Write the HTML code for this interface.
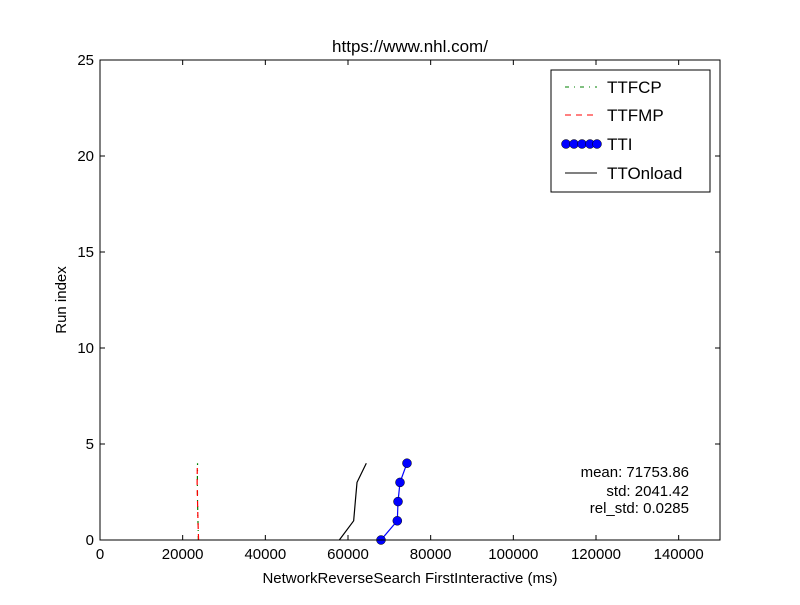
<!DOCTYPE html>
<html><head><meta charset="utf-8"><style>
body{margin:0;background:#fff;}
svg{font-family:"Liberation Sans",sans-serif;}
</style></head><body>
<svg id="chart" width="800" height="600" xmlns="http://www.w3.org/2000/svg">
<rect width="800" height="600" fill="#fff"/>
<text x="410" y="52" font-size="17" text-anchor="middle">https://www.nhl.com/</text>
<g id="plot"></g>
<text x="410" y="583" font-size="15" text-anchor="middle">NetworkReverseSearch FirstInteractive (ms)</text>
<text transform="translate(66,300) rotate(-90)" font-size="15" text-anchor="middle">Run index</text>
<g font-size="15" text-anchor="end">
<text x="689" y="477">mean: 71753.86</text>
<text x="689" y="496">std: 2041.42</text>
<text x="689" y="513">rel_std: 0.0285</text>
</g>
<g>
<rect x="551" y="70" width="159" height="122" fill="#fff" stroke="#000"/>
<line x1="565" y1="87" x2="597" y2="87" stroke="green" stroke-dasharray="4,5,1,5"/>
<text x="607" y="93" font-size="17">TTFCP</text>
<line x1="565" y1="115" x2="597" y2="115" stroke="red" stroke-dasharray="6,5"/>
<text x="607" y="121" font-size="17">TTFMP</text>
<g fill="blue" stroke="#000" stroke-width="0.5">
<circle cx="566" cy="144" r="4.5"/><circle cx="574" cy="144" r="4.5"/><circle cx="582" cy="144" r="4.5"/><circle cx="590" cy="144" r="4.5"/><circle cx="597" cy="144" r="4.5"/></g>
<text x="607" y="150" font-size="17">TTI</text>
<line x1="565" y1="173" x2="597" y2="173" stroke="#000"/>
<text x="607" y="179" font-size="17">TTOnload</text>
</g>
</svg>
<script>
const runIndex=[0,1,2,3,4];
const ttfcp=[23800,23700,23600,23550,23600];
const ttfmp=[23850,23700,23600,23500,23550];
const tti=[67980,71930,72100,72580,74270];
const ttonload=[57900,61370,61770,62180,64430];
const xTicks=[0,20000,40000,60000,80000,100000,120000,140000];
const yTicks=[0,5,10,15,20,25];
const L=100,R=720,T=60,B=540,XMAX=150000,YMAX=25;
const sx=v=>L+v/XMAX*(R-L), sy=v=>B-v/YMAX*(B-T);
const NS="http://www.w3.org/2000/svg", g=document.getElementById('plot');
function mk(t,a){const e=document.createElementNS(NS,t);for(const k in a)e.setAttribute(k,a[k]);g.appendChild(e);return e;}
function path(xs,color,dash,name){const d=xs.map((v,i)=>(i?'L':'M')+sx(v)+','+sy(runIndex[i])).join('');
const p=mk('path',{d:d,fill:'none',stroke:color,'stroke-width':1.2});if(dash)p.setAttribute('stroke-dasharray',dash);

}
path(ttonload,'#000',null,'ttonload-line');
path(ttfcp,'green','4,5,1,5','ttfcp-line');
path(ttfmp,'red','6,5','ttfmp-line');
path(tti,'blue',null,'tti-line');
tti.forEach((v,i)=>{const c=mk('circle',{cx:sx(v),cy:sy(runIndex[i]),r:4.5,fill:'blue',stroke:'#000','stroke-width':0.5});

});
const fr=mk('rect',{x:L,y:T,width:R-L,height:B-T,fill:'none',stroke:'#000'});


xTicks.forEach(v=>{const x=sx(v);mk('line',{x1:x,y1:B,x2:x,y2:B-5,stroke:'#000'});mk('line',{x1:x,y1:T,x2:x,y2:T+5,stroke:'#000'});
const t=mk('text',{x:x,y:B+19,'font-size':15,'text-anchor':'middle'});t.textContent=v;

});
yTicks.forEach(v=>{const y=sy(v);mk('line',{x1:L,y1:y,x2:L+5,y2:y,stroke:'#000'});mk('line',{x1:R,y1:y,x2:R-5,y2:y,stroke:'#000'});
const t=mk('text',{x:L-6,y:y+5,'font-size':15,'text-anchor':'end'});t.textContent=v;

});
</script>
</body></html>
